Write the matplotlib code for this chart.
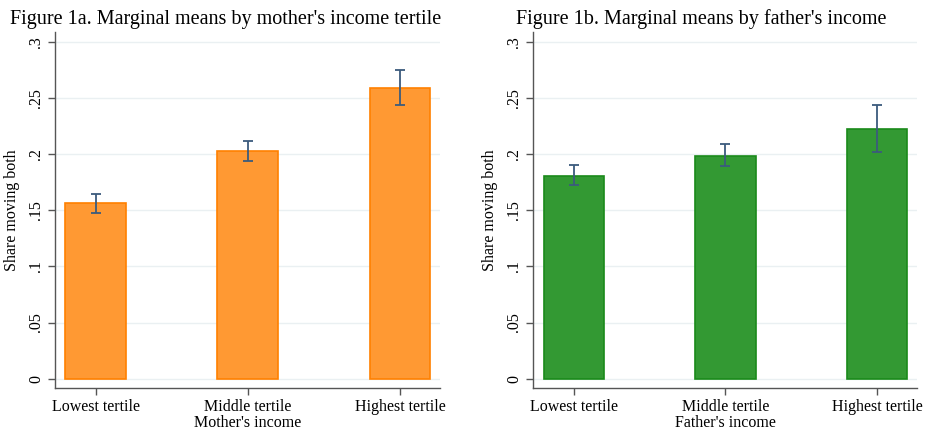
import matplotlib.pyplot as plt

plt.rcParams['font.family'] = ['Liberation Serif', 'DejaVu Serif']

categories = ['Lowest tertile', 'Middle tertile', 'Highest tertile']

mother_means = [0.1563, 0.2026, 0.2587]
mother_lo = [0.1477, 0.1940, 0.2439]
mother_hi = [0.1646, 0.2120, 0.2748]

father_means = [0.1809, 0.1987, 0.2228]
father_lo = [0.1726, 0.1898, 0.2017]
father_hi = [0.1900, 0.2088, 0.2439]

yticks = [0, 0.05, 0.1, 0.15, 0.2, 0.25, 0.3]
ytick_labels = ['0', '.05', '.1', '.15', '.2', '.25', '.3']

fig = plt.figure(figsize=(9.29, 4.32), dpi=100)


def panel(rect, means, lo, hi, face, edge, xlabel, title, title_x):
    ax = fig.add_axes(rect)
    x = list(range(len(categories)))
    ax.bar(x, means, width=0.4, color=face, edgecolor=edge, linewidth=1.2, zorder=2)
    yerr = [[m - l for m, l in zip(means, lo)], [h - m for m, h in zip(means, hi)]]
    ax.errorbar(x, means, yerr=yerr, fmt='none', ecolor='#3b5b7d', elinewidth=1.3,
                capsize=3.5, capthick=1.3, zorder=3)
    ax.set_xlim(-0.268, 2.263)
    ax.set_ylim(-0.0083, 0.3089)
    ax.set_yticks(yticks)
    ax.set_yticklabels(ytick_labels, rotation=90, va='center', fontsize=11.5)
    ax.set_xticks(x)
    ax.set_xticklabels(categories, fontsize=11.5)
    ax.grid(axis='y', color='#eaf0f2', linewidth=1.0, zorder=0)
    ax.set_axisbelow(True)
    for s in ['top', 'right']:
        ax.spines[s].set_visible(False)
    for s in ['left', 'bottom']:
        ax.spines[s].set_color('#555555')
        ax.spines[s].set_linewidth(1.0)
    ax.tick_params(length=5, color='#555555', width=1.0, pad=3)
    ax.set_ylabel('Share moving both', fontsize=11.5, labelpad=6)
    ax.set_xlabel(xlabel, fontsize=11.5, labelpad=0)
    fig.text(title_x, 0.978, title, ha='center', va='top', fontsize=14.5)
    return ax


panel([0.0592, 0.1019, 0.4144, 0.8241], mother_means, mother_lo, mother_hi,
      '#ff9933', '#ff8000', "Mother's income",
      "Figure 1a. Marginal means by mother's income tertile", 0.243)
panel([0.574, 0.1019, 0.4128, 0.8241], father_means, father_lo, father_hi,
      '#339933', '#1a8a1a', "Father's income",
      "Figure 1b. Marginal means by father's income", 0.755)

fig.savefig('out.png', dpi=100)
